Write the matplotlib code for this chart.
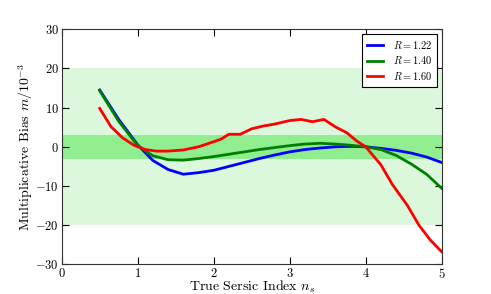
import matplotlib
matplotlib.use("Agg")
import matplotlib.pyplot as plt
import numpy as np

plt.rcParams['font.family'] = 'serif'
plt.rcParams['font.serif'] = ['cmr10']
plt.rcParams['mathtext.fontset'] = 'cm'
plt.rcParams['axes.formatter.use_mathtext'] = True

# valeurs
n_b = [0.5, 0.75, 1.0, 1.2, 1.4, 1.6, 1.8, 2.0, 2.2, 2.4, 2.6, 2.8, 3.0, 3.2,
       3.4, 3.6, 3.8, 4.0, 4.2, 4.4, 4.6, 4.8, 5.0]
m_b = [14.5, 7.0, 0.5, -3.5, -5.8, -7.0, -6.6, -6.0, -5.0, -4.0, -3.0, -2.1,
       -1.3, -0.7, -0.3, 0.0, 0.1, 0.0, -0.4, -0.9, -1.6, -2.6, -4.0]

n_g = [0.5, 0.75, 1.0, 1.2, 1.4, 1.6, 1.8, 2.0, 2.2, 2.4, 2.6, 2.8, 3.0, 3.2,
       3.4, 3.6, 3.8, 4.0, 4.2, 4.4, 4.6, 4.8, 5.0]
m_g = [14.3, 6.5, 0.3, -2.3, -3.3, -3.4, -3.0, -2.5, -1.9, -1.3, -0.7, -0.2,
       0.3, 0.7, 0.9, 0.7, 0.4, 0.0, -0.7, -2.2, -4.4, -7.0, -10.6]

n_r = [0.5, 0.65, 0.8, 0.95, 1.1, 1.25, 1.4, 1.6, 1.8, 2.0, 2.1, 2.2, 2.35,
       2.5, 2.65, 2.8, 3.0, 3.15, 3.3, 3.45, 3.6, 3.75, 3.88, 4.0, 4.2, 4.35,
       4.55, 4.7, 4.85, 5.0]
m_r = [9.8, 5.1, 2.3, 0.4, -0.7, -1.1, -1.1, -0.8, 0.0, 1.3, 2.0, 3.2, 3.2,
       4.6, 5.3, 5.8, 6.7, 7.0, 6.4, 7.0, 5.1, 3.6, 1.5, 0.0, -4.6, -9.6,
       -15.0, -20.0, -23.8, -26.8]

fig = plt.figure(figsize=(4.91, 2.94), dpi=100)
ax = fig.add_axes([0.1257, 0.101, 0.7739, 0.7993])

ax.axhspan(-20, 20, color='#dcf8dc', lw=0, zorder=0)
ax.axhspan(-3, 3, color='#90ee90', lw=0, zorder=0)

ax.plot(n_b, m_b, color='blue', lw=2, label=r'$R=1.22$')
ax.plot(n_g, m_g, color='green', lw=2, label=r'$R=1.40$')
ax.plot(n_r, m_r, color='red', lw=2, label=r'$R=1.60$')

ax.set_xlim(0, 5)
ax.set_ylim(-30, 30)
ax.set_xticks([0, 1, 2, 3, 4, 5])
ax.set_yticks([-30, -20, -10, 0, 10, 20, 30])
ax.tick_params(labelsize=9, direction='in', top=True, right=True, length=5, pad=2)
for s in ax.spines.values():
    s.set_color('#333333')

ax.set_xlabel(r'True Sersic Index $n_s$', fontsize=10, labelpad=-1.5)
ax.set_ylabel(r'Multiplicative Bias $m/10^{-3}$', fontsize=10, labelpad=0)

leg = ax.legend(loc='upper right', fontsize=7.5, fancybox=False, framealpha=1,
                edgecolor='black', handlelength=1.6, handletextpad=0.9,
                borderaxespad=0.45, labelspacing=0.35, borderpad=0.45)
leg.get_frame().set_linewidth(0.8)

fig.savefig('out.png', dpi=100)
